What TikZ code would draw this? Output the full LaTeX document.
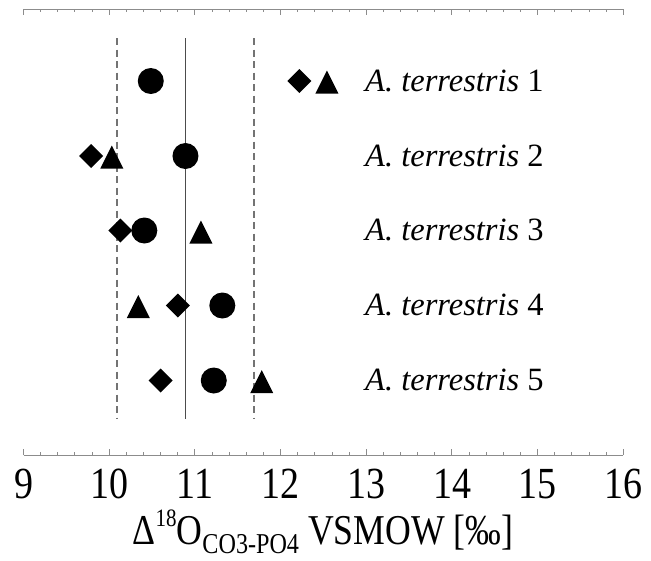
\documentclass[tikz,border=0pt]{standalone}
\usepackage{fontspec}
\setmainfont{Liberation Serif}
\newcommand\X[1]{\fpeval{23.5+(#1-9)*85.7}}
\tikzset{
  axisline/.style={draw=black!45, line width=1pt},
  meanline/.style={draw=black!70, line width=1.2pt},
  sdline/.style={draw=black!55, line width=1.2pt, dash pattern=on 7pt off 4.5pt},
  rowlabel/.style={anchor=base west, inner sep=0pt, font=\fontsize{32.5}{36}\selectfont},
  ticklabel/.style={anchor=base, inner sep=0pt, font=\fontsize{38}{40}\selectfont},
  pics/tri/.style={code={\fill (-11.5,11.5) -- (11.5,11.5) -- (0,-11.5) -- cycle;}},
  pics/dia/.style={code={\fill (-12,0) -- (0,-12) -- (12,0) -- (0,12) -- cycle;}},
  pics/dot/.style={code={\fill (0,0) circle (13);}}
}
\begin{document}
\begin{tikzpicture}[x=1pt,y=-1pt]
\useasboundingbox (0,0) rectangle (651,560);
% axes
\coordinate (tl) at (\X{9},9); \coordinate (tr) at (\X{16},9);
\coordinate (bl) at (\X{9},455); \coordinate (br) at (\X{16},455);
\draw[axisline] (tl) -- (tr);
\draw[axisline] (bl) -- (br);
\foreach \i in {0,...,35}{
  \pgfmathsetmacro\v{9+0.2*\i}
  \pgfmathtruncatemacro\m{mod(\i,5)}
  \ifnum\m=0
    \draw[axisline] (\X{\v},9) -- ++(0,6);
    \draw[axisline] (\X{\v},455) -- ++(0,-6);
  \else
    \draw[axisline] (\X{\v},9) -- ++(0,3);
    \draw[axisline] (\X{\v},455) -- ++(0,-3);
  \fi
}
\foreach \v in {9,...,16}{
  \node[ticklabel] (t\v) at (\X{\v},498) {\scalebox{1}[1.17]{\v}};
}
% reference lines
\coordinate (mt) at (\X{10.89},38); \coordinate (mb) at (\X{10.89},419);
\coordinate (lt) at (\X{10.09},38); \coordinate (lb) at (\X{10.09},419);
\coordinate (rt) at (\X{11.69},38); \coordinate (rb) at (\X{11.69},419);
\draw[meanline] (mt) -- (mb);
\draw[sdline] (lt) -- (lb);
\draw[sdline] (rt) -- (rb);
% data
\path (\X{10.485},81) pic {dot} (\X{12.22},81) pic {dia} (\X{12.54},82) pic {tri};
\path (\X{9.79},156) pic {dia} (\X{10.03},157) pic {tri} (\X{10.89},156) pic {dot};
\path (\X{10.13},230.5) pic {dia} (\X{10.41},230.5) pic {dot} (\X{11.07},232) pic {tri};
\path (\X{10.34},306.5) pic {tri} (\X{10.80},305.5) pic {dia} (\X{11.32},305.5) pic {dot};
\path (\X{10.60},380.5) pic {dia} (\X{11.22},380.5) pic {dot} (\X{11.78},381.5) pic {tri};
% labels
\foreach \k/\y in {1/81,2/156,3/230.8,4/305.7,5/380.6}{
  \node[rowlabel] (lab\k) at (365,\y+10) {\textit{A. terrestris} \k};
}
% title
\node[anchor=base, inner sep=0pt, font=\fontsize{34}{38}\selectfont] (title) at (323,544)
 {\scalebox{1.05}[1.25]{Δ\raisebox{0.42em}{\fontsize{20}{20}\selectfont 18}O\raisebox{-0.22em}{\fontsize{23}{23}\selectfont CO3-PO4} VSMOW [‰]}};
\end{tikzpicture}
\end{document}
